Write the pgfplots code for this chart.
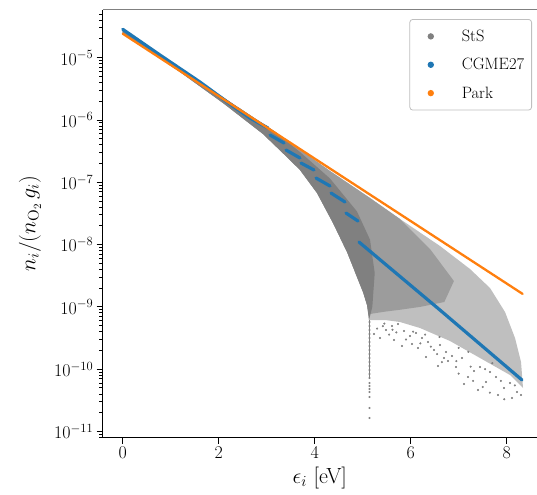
\RequirePackage{fix-cm}
\documentclass[border=0pt]{standalone}
\usepackage{pgfplots}
\pgfplotsset{compat=1.18}
\definecolor{stsgray}{HTML}{808080}
\definecolor{cgblue}{HTML}{1F77B4}
\definecolor{parkorange}{HTML}{FF7F0E}
\colorlet{grayA}{stsgray!50!white}
\colorlet{grayB}{stsgray!78!white}
\pgfplotsset{dotlegend/.style={legend image code/.code={\path[draw=none,fill=none] (0bp,-3.5bp) rectangle (44.5bp,3.5bp); \fill[#1,draw=none] (13.5bp,0bp) circle (3.2bp);}}}
\begin{document}
\begin{tikzpicture}
\begin{axis}[
  at={(0,0)}, anchor=south west,
  scale only axis, width=434.3bp, height=428.2bp,
  xmin=-0.417, xmax=8.631,
  ymode=log, ymin=7.96e-12, ymax=5.94e-5,
  axis x line*=bottom, axis y line*=left,
  axis line style={black, line width=1.1bp},
  tick align=outside,
  xtick={0,2,4,6,8},
  ytick={1e-11,1e-10,1e-9,1e-8,1e-7,1e-6,1e-5},
  minor ytick={8e-12,9e-12,2e-11,3e-11,4e-11,5e-11,6e-11,7e-11,8e-11,9e-11,2e-10,3e-10,4e-10,5e-10,6e-10,7e-10,8e-10,9e-10,2e-9,3e-9,4e-9,5e-9,6e-9,7e-9,8e-9,9e-9,2e-8,3e-8,4e-8,5e-8,6e-8,7e-8,8e-8,9e-8,2e-7,3e-7,4e-7,5e-7,6e-7,7e-7,8e-7,9e-7,2e-6,3e-6,4e-6,5e-6,6e-6,7e-6,8e-6,9e-6,2e-5,3e-5,4e-5,5e-5},
  major tick length=6bp, minor tick length=3.5bp,
  every tick/.style={black, line width=1bp},
  tick label style={font=\fontsize{18}{21}\selectfont},
  xlabel={$\epsilon_i$ [eV]},
  ylabel={$n_i/(n_{\mathrm{O}_2}\,g_i)$},
  every axis x label/.style={at={(axis description cs:0.5,0)}, anchor=base, yshift=-45.3bp, font=\fontsize{22}{26}\selectfont},
  every axis y label/.style={at={(axis description cs:-0.1674,0.5)}, rotate=90, anchor=center, font=\fontsize{22}{26}\selectfont},
  unbounded coords=jump,
  legend cell align=left,
  legend style={at={(axis description cs:1,1)}, anchor=north east, xshift=-5bp, yshift=-9.5bp,
    draw=black!25, line width=0.8bp, rounded corners=3bp, fill=white,
    font=\fontsize{16.5}{19}\selectfont, inner xsep=7.5bp, inner ysep=10.5bp, row sep=15.4bp,
    nodes={inner sep=0bp}},
  after end axis/.code={\draw[stsgray, line width=1.3bp] (rel axis cs:0,1) -- (rel axis cs:1,1);},
]
% StS: dense region (light)
\addplot[fill=grayA, draw=none, forget plot] coordinates {
(0,2.784e-5) (1.610,4.074e-6) (3.173,6.5e-7) (4.319,1.519e-7) (5.152,5.60e-8) (5.777,2.576e-8)
(6.610,9.50e-9) (7.235,4.06e-9) (7.652,2.012e-9) (7.965,8.285e-10) (8.173,3.170e-10) (8.298,1.305e-10) (8.340,4.993e-11)
(8.069,8.073e-11) (7.444,1.513e-10) (6.819,2.837e-10) (6.194,4.586e-10) (5.777,5.725e-10) (5.465,6.166e-10) (5.194,6.166e-10)
(5.131,6.166e-10) (5.090,1.073e-9) (5.006,1.735e-9) (4.881,3.02e-9) (4.673,7.607e-9) (4.381,2.223e-8) (4.048,6.734e-8)
(3.694,1.576e-7) (3.485,2.280e-7) (2.923,5.963e-7) (2.090,1.875e-6) (1.194,5.895e-6) (0,2.492e-5)} -- cycle;
% StS: denser region
\addplot[fill=grayB, draw=none, forget plot] coordinates {
(0,2.784e-5) (1.610,4.074e-6) (3.173,6.5e-7) (4.319,1.519e-7) (5.152,5.60e-8) (5.777,2.576e-8)
(6.402,8.5e-9) (6.90,2.6e-9) (6.70,1.2e-9) (6.194,1.0e-9) (5.777,9.0e-10) (5.465,8.4e-10) (5.194,7.8e-10)
(5.125,7.6e-10) (5.090,1.073e-9) (5.006,1.735e-9) (4.881,3.02e-9) (4.673,7.607e-9) (4.381,2.223e-8) (4.048,6.734e-8)
(3.694,1.576e-7) (3.485,2.280e-7) (2.923,5.963e-7) (2.090,1.875e-6) (1.194,5.895e-6) (0,2.492e-5)} -- cycle;
% StS: solid core
\addplot[fill=stsgray, draw=none, forget plot] coordinates {
(0,2.784e-5) (1.610,4.074e-6) (3.173,6.5e-7) (3.694,3.064e-7) (4.319,1.15e-7) (4.881,3.4e-8) (5.152,1.2e-8)
(5.25,3.5e-9) (5.20,1.0e-9) (5.131,6.166e-10) (5.090,1.073e-9) (5.006,1.735e-9) (4.881,3.02e-9) (4.673,7.607e-9)
(4.381,2.223e-8) (4.048,6.734e-8) (3.694,1.576e-7) (3.485,2.280e-7) (2.923,5.963e-7) (2.090,1.875e-6) (1.194,5.895e-6) (0,2.492e-5)} -- cycle;
% StS: sparse states
\addplot[only marks, mark=*, mark size=0.85bp, stsgray, forget plot] coordinates {
(5.236,3.674e-10) (5.361,3.170e-10) (5.486,4.261e-10) (5.611,4.937e-10) (5.736,5.317e-10) (5.861,4.106e-10)
(5.985,3.413e-10) (6.111,3.813e-10) (6.236,3.170e-10) (6.361,2.734e-10) (6.486,2.034e-10) (6.610,2.447e-10)
(6.736,1.889e-10) (6.861,1.629e-10) (6.694,1.513e-10) (6.569,1.126e-10) (6.777,1.355e-10) (6.944,1.085e-10)
(7.069,1.513e-10) (7.194,7.499e-11) (7.319,9.36e-11) (7.444,1.085e-10) (7.569,6.234e-11) (7.652,9.02e-11)
(7.777,7.499e-11) (7.819,3.855e-11) (7.944,4.993e-11) (8.069,6.008e-11) (8.111,3.451e-11) (8.215,4.308e-11)
(8.298,3.855e-11) (5.652,2.944e-10) (5.819,2.358e-10) (6.152,2.190e-10) (6.319,1.570e-10) (7.111,5.788e-11)
(7.402,4.637e-11) (6.027,2.539e-10)
(5.30,4.5e-10) (5.42,4.9e-10) (5.55,3.6e-10) (5.70,3.9e-10) (5.90,3.0e-10) (6.20,2.6e-10) (6.42,2.3e-10)
(6.55,1.75e-10) (6.95,1.35e-10) (7.25,1.1e-10) (7.55,1.0e-10) (7.88,6.5e-11) (8.17,5.5e-11) (7.0,8.5e-11)
(6.65,1.3e-10) (7.3,6.5e-11) (7.5,5.2e-11) (7.65,4.2e-11) (7.95,3.3e-11) (5.45,5.4e-10) (5.62,4.3e-10)
(6.05,4.0e-10) (6.30,3.6e-10) (6.6,3.3e-10) (7.0,2.2e-10) (7.2,1.9e-10) (7.7,1.25e-10)
(5.142,5.725e-10) (5.142,4.937e-10) (5.142,4.261e-10) (5.142,3.674e-10) (5.142,3.170e-10) (5.142,2.734e-10)
(5.142,2.358e-10) (5.142,2.034e-10) (5.142,1.754e-10) (5.142,1.513e-10) (5.142,1.305e-10) (5.142,1.126e-10)
(5.142,9.71e-11) (5.142,8.376e-11) (5.142,7.225e-11) (5.142,6.008e-11) (5.142,5.377e-11) (5.142,4.813e-11)
(5.142,4.308e-11) (5.142,3.581e-11) (5.142,2.385e-11) (5.142,1.648e-11)};
\addplot[stsgray, line width=1.3bp, forget plot] coordinates {(5.142,6.2e-10) (5.142,7.2e-11)};
% CGME27
\addplot[cgblue, line width=3.2bp, line cap=round, forget plot] coordinates {
(0,2.86e-5) (0.777,1.104e-5) (1.610,4.07e-6) (2.235,1.807e-6) (2.652,1.076e-6) (3.027,7.44e-7)
(3.048,nan)
(3.069,5.74e-7) (3.360,4.27e-7)
(3.38,nan)
(3.402,3.30e-7) (3.694,2.455e-7)
(3.70,nan)
(3.715,2.04e-7) (3.985,1.575e-7)
(4.00,nan)
(4.027,1.172e-7) (4.319,8.72e-8)
(4.33,nan)
(4.340,6.73e-8) (4.631,4.83e-8)
(4.64,nan)
(4.652,3.21e-8) (4.902,2.39e-8)
(4.91,nan)
(4.923,1.10e-8) (6.610,8.91e-10) (8.319,6.71e-11)};
% Park
\addplot[parkorange, line width=2.3bp, line cap=round, forget plot] coordinates {(0,2.43e-5) (8.33,1.62e-9)};
\addlegendimage{dotlegend=stsgray}
\addlegendentry{StS}
\addlegendimage{dotlegend=cgblue}
\addlegendentry{CGME27}
\addlegendimage{dotlegend=parkorange}
\addlegendentry{Park}
\end{axis}
\pgfresetboundingbox
\path[use as bounding box] (-102.7bp,-57.3bp) rectangle (434.3bp,437.7bp);
\end{tikzpicture}
\end{document}
